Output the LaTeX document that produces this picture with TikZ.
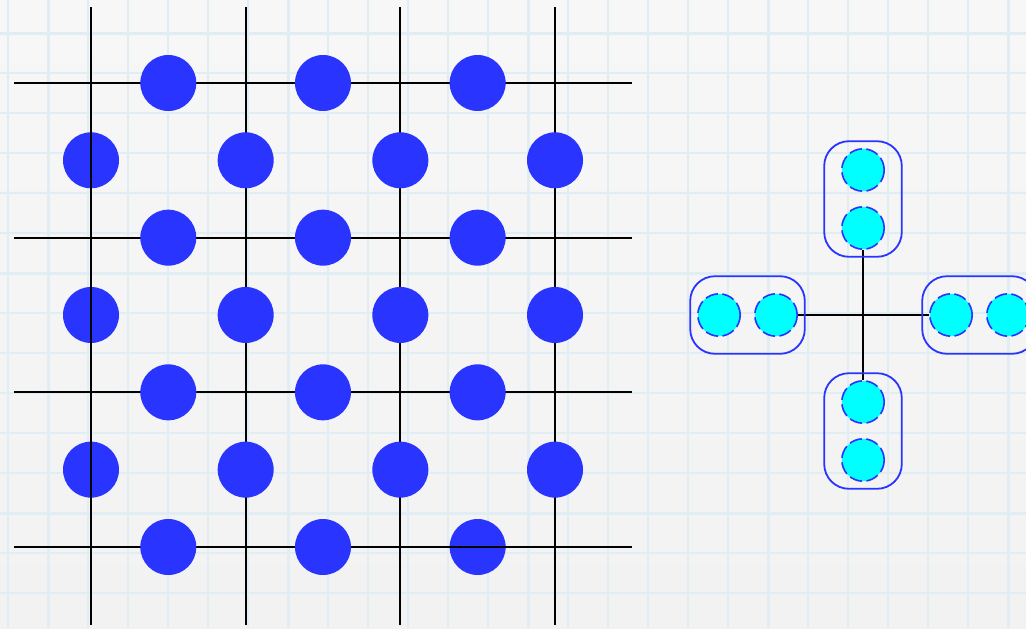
\documentclass[tikz,border=0pt]{standalone}
\usepackage{tikz}
\usetikzlibrary{fit}
\definecolor{SiteBlue}{RGB}{42, 52, 255}
\definecolor{DimerCyan}{RGB}{0, 255, 255}
\definecolor{GridBlue}{RGB}{224, 237, 242}
\definecolor{PaperTop}{RGB}{247, 247, 247}
\definecolor{PaperBottom}{RGB}{242, 242, 242}

\begin{document}
\begin{tikzpicture}[
    x=0.25mm, y=-0.25mm,
    bond/.style={black, line width=0.5mm},
    gridline/.style={GridBlue, line width=0.45mm},
    gridmajor/.style={GridBlue, line width=0.75mm},
    site/.style={circle, fill=SiteBlue, minimum size=14mm, inner sep=0pt},
    dimer/.style={circle, fill=DimerCyan, draw=SiteBlue, line width=0.4mm,
      dash pattern=on 3.2mm off 1.1mm, minimum size=10.6mm, inner sep=0pt},
    pairbox/.style={draw=SiteBlue, line width=0.45mm, rounded corners=6.2mm},
    vpair/.style={pairbox, inner xsep=4.2mm, inner ysep=1.7mm},
    hpair/.style={pairbox, inner xsep=1.7mm, inner ysep=4.2mm}
  ]
    \useasboundingbox (0,0) rectangle (1026,628);
    \clip (0,0) rectangle (1026,628);
    % graph paper
    \shade[top color=PaperTop, bottom color=PaperBottom] (0,0) rectangle (1026,628);
    \foreach \gx in {8,48,...,1008}
      \draw[gridline] (\gx,0) -- (\gx,628);
    \foreach \gy in {33,73,...,593}
      \draw[gridline] (0,\gy) -- (1026,\gy);
    \foreach \gx in {48,288,...,1008}
      \draw[gridmajor] (\gx,0) -- (\gx,628);
    \foreach \gy in {33,273,513}
      \draw[gridmajor] (0,\gy) -- (1026,\gy);

    % square lattice
    \foreach \j in {0,1,2}
      \draw[bond] (14,{83+154.67*\j}) -- (632,{83+154.67*\j});
    \foreach \i in {1,2,3}
      \draw[bond] ({91+154.67*\i},7) -- ({91+154.67*\i},625);
    \node[site] (h-2-3) at ({168.3+154.67*2},547) {};
    \draw[bond] (14,547) -- (632,547);
    \foreach \i in {0,1,2}
      \foreach \j in {0,1,2}
        \node[site] (h-\i-\j) at ({168.3+154.67*\i},{83+154.67*\j}) {};
    \foreach \i in {0,1}
      \node[site] (h-\i-3) at ({168.3+154.67*\i},547) {};
    \foreach \i in {0,1,2,3}
      \foreach \j in {0,1,2}
        \node[site] (v-\i-\j) at ({91+154.67*\i},{160.3+154.67*\j}) {};
    \draw[bond] (91,7) -- (91,625);

    % one vertex with its dimers
    \node[dimer] (t2) at (863,170) {};
    \node[dimer] (t1) at (863,228) {};
    \node[dimer] (b1) at (863,402) {};
    \node[dimer] (b2) at (863,460) {};
    \node[dimer] (l2) at (719,315) {};
    \node[dimer] (l1) at (776,315) {};
    \node[dimer] (r1) at (951,315) {};
    \node[dimer] (r2) at (1008,315) {};
    \draw[bond] (t1) -- (b1);
    \draw[bond] (l1) -- (r1);
    \node[vpair, fit=(t1)(t2)] (top) {};
    \node[vpair, fit=(b1)(b2)] (bottom) {};
    \node[hpair, fit=(l1)(l2)] (left) {};
    \node[hpair, fit=(r1)(r2)] (right) {};
  \end{tikzpicture}
\end{document}
